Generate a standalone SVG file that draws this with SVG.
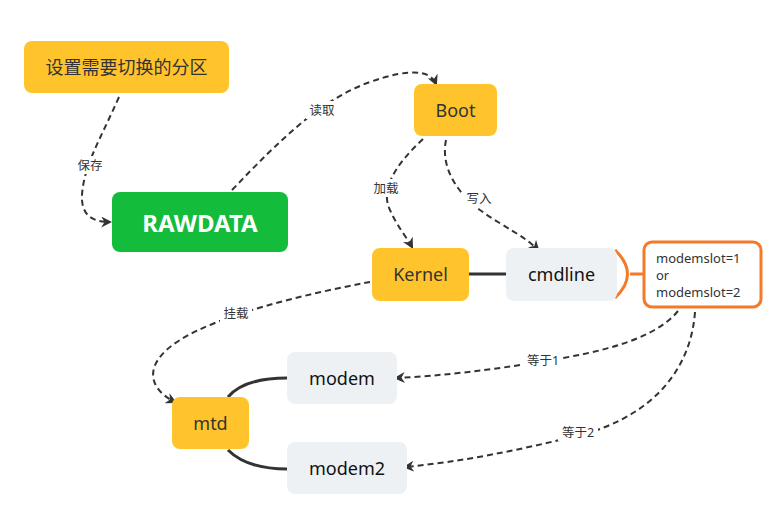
<svg xmlns="http://www.w3.org/2000/svg" width="782" height="507" viewBox="0 0 782 507">
<style>
.y{fill:#FFC42B}
.g{fill:#EEF1F4}
.t{font-family:"Noto Sans","Noto Sans CJK SC",sans-serif;font-size:18px;fill:#333;text-anchor:middle;dominant-baseline:central}
.tb{fill:#111}
.d{fill:none;stroke:#333;stroke-width:2;stroke-dasharray:6 4;marker-end:url(#a)}
.s{fill:none;stroke:#333;stroke-width:3}
.lb{font-family:"Noto Sans","Noto Sans CJK SC",sans-serif;font-size:12.5px;fill:#333;text-anchor:middle;dominant-baseline:central}
.lbg{fill:#fff}
</style>
<defs>
<marker id="a" viewBox="0 0 10 10" refX="8" refY="5" markerWidth="5.5" markerHeight="5.5" orient="auto" markerUnits="strokeWidth">
<path d="M0,0 L10,5 L0,10 L3,5 Z" fill="#333"/>
</marker>
</defs>
<rect width="782" height="507" fill="#fff"/>
<g id="connectors">
<path class="d" d="M119,97 C100,140 84,165 82,195 C81,215 92,222 110,222"/>
<path class="d" d="M232,190 C280,140 320,100 370,82 C410,68 430,70 436,84"/>
<path class="d" d="M423,139 C395,165 380,190 390,210 C398,228 406,236 412,247"/>
<path class="d" d="M446,140 C440,170 460,195 480,210 C505,228 525,236 538,250"/>
<path class="d" d="M370,282 C300,295 220,315 180,340 C140,365 150,390 175,402"/>
<path class="d" d="M678,311 C650,345 580,355 540,362 C490,370 440,376 396,378"/>
<path class="d" d="M695,312 C690,380 640,420 580,435 C520,450 460,462 405,467"/>
<path class="s" d="M228,397 C240,383 260,378 287,378"/>
<path class="s" d="M228,450 C240,462 260,469 287,469"/>
<path class="s" d="M469,274 L506,274"/>
<path d="M615,250 Q640,274 615,298 M630,274 L645,274" fill="none" stroke="#F47A2A" stroke-width="3"/>
<rect class="lbg" x="74" y="156" width="32" height="18"/>
<text class="lb" x="90" y="165">保存</text>
<rect class="lbg" x="306" y="101" width="32" height="18"/>
<text class="lb" x="322" y="110">读取</text>
<rect class="lbg" x="370" y="179" width="32" height="18"/>
<text class="lb" x="386" y="188">加载</text>
<rect class="lbg" x="463" y="189" width="32" height="18"/>
<text class="lb" x="479" y="198">写入</text>
<rect class="lbg" x="220" y="304" width="32" height="18"/>
<text class="lb" x="236" y="313">挂载</text>
<rect class="lbg" x="523" y="351" width="40" height="18"/>
<text class="lb" x="543" y="360">等于1</text>
<rect class="lbg" x="558" y="423" width="40" height="18"/>
<text class="lb" x="578" y="432">等于2</text>
</g>
<g id="n-set">
<rect class="y" x="24" y="41" width="205" height="52" rx="8"/>
<text class="t" x="126.5" y="67">设置需要切换的分区</text>
</g>
<g id="n-rawdata">
<rect x="112" y="192" width="176" height="60" rx="8" fill="#13BC3A"/>
<text class="t" x="200" y="222" style="font-size:24px;font-weight:bold;fill:#fff">RAWDATA</text>
</g>
<g id="n-boot">
<rect class="y" x="414" y="84" width="83" height="52" rx="8"/>
<text class="t" x="455.5" y="110">Boot</text>
</g>
<g id="n-kernel">
<rect class="y" x="372" y="248" width="97" height="53" rx="8"/>
<text class="t" x="420.5" y="274">Kernel</text>
</g>
<g id="n-cmdline">
<rect class="g" x="506" y="248" width="111" height="53" rx="8"/>
<text class="t tb" x="561.5" y="274">cmdline</text>
</g>
<g id="n-modemslot">
<rect x="644" y="242" width="117" height="65" rx="8" fill="#fff" stroke="#F47A2A" stroke-width="3"/>
<text style="font-family:'Noto Sans',sans-serif;font-size:13px;fill:#333">
<tspan x="656" y="263">modemslot=1</tspan>
<tspan x="656" y="280">or</tspan>
<tspan x="656" y="297">modemslot=2</tspan>
</text>
</g>
<g id="n-mtd">
<rect class="y" x="172" y="397" width="77" height="52" rx="8"/>
<text class="t" x="210.5" y="423">mtd</text>
</g>
<g id="n-modem">
<rect class="g" x="287" y="352" width="110" height="52" rx="8"/>
<text class="t tb" x="342" y="378">modem</text>
</g>
<g id="n-modem2">
<rect class="g" x="287" y="442" width="120" height="52" rx="8"/>
<text class="t tb" x="347" y="468">modem2</text>
</g>
</svg>
